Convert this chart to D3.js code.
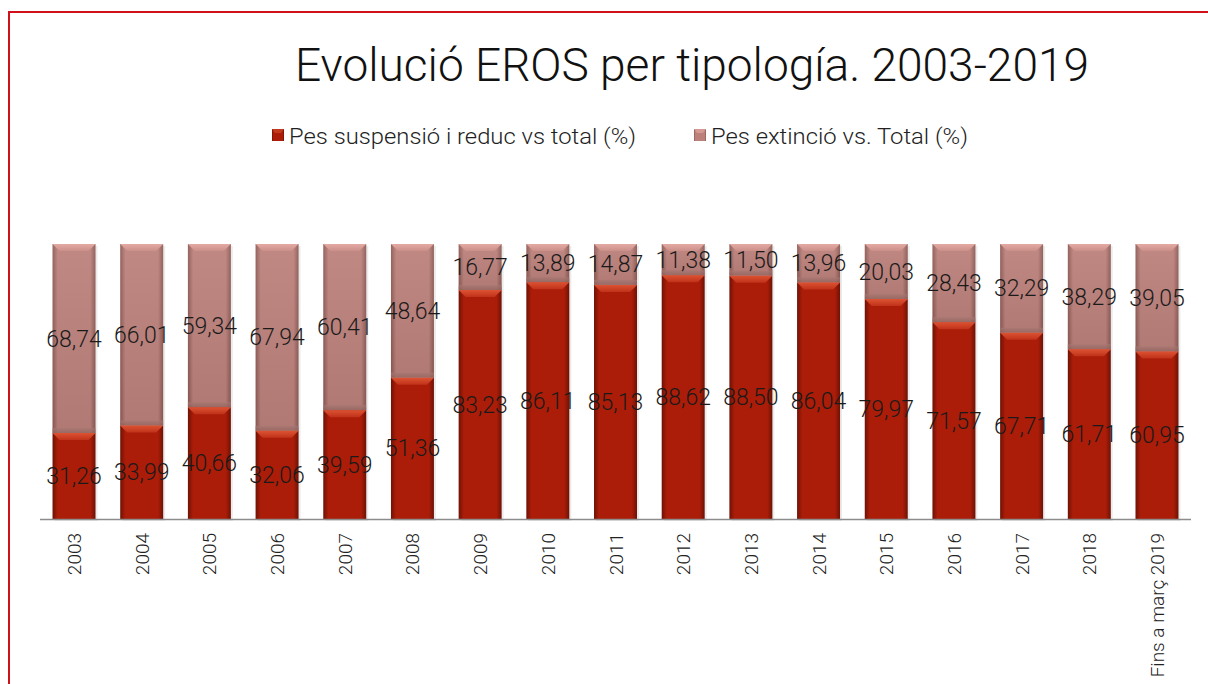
<!DOCTYPE html>
<html>
<head>
<meta charset="utf-8">
<script src="https://cdn.jsdelivr.net/npm/d3@7"></script>
<style>
  body { margin: 0; background: #fff; }
  svg text { font-family: Roboto, "Open Sans", sans-serif; }
</style>
</head>
<body>
<div id="chart"></div>
<script>
// categories and series (values in %)
const categories = ["2003", "2004", "2005", "2006", "2007", "2008", "2009", "2010", "2011",
  "2012", "2013", "2014", "2015", "2016", "2017", "2018", "Fins a març 2019"];
const reducValues = [31.26, 33.99, 40.66, 32.06, 39.59, 51.36, 83.23, 86.11, 85.13,
  88.62, 88.50, 86.04, 79.97, 71.57, 67.71, 61.71, 60.95];
const extincioValues = [68.74, 66.01, 59.34, 67.94, 60.41, 48.64, 16.77, 13.89, 14.87,
  11.38, 11.50, 13.96, 20.03, 28.43, 32.29, 38.29, 39.05];
const seriesNames = ["Pes suspensió i reduc vs total (%)", "Pes extinció vs. Total (%)"];
const titleText = "Evolució EROS per tipología. 2003-2019";

const W = 1208, H = 684;
const baseY = 519, topY = 244;

const svg = d3.select("#chart").append("svg")
  .attr("width", W).attr("height", H);

// gradients for the bevelled bars
const defs = svg.append("defs");
function hGrad(id, edge, mid) {
  const g = defs.append("linearGradient").attr("id", id)
    .attr("x1", "0").attr("x2", "1").attr("y1", "0").attr("y2", "0");
  g.append("stop").attr("offset", "0").attr("stop-color", edge);
  g.append("stop").attr("offset", "0.12").attr("stop-color", mid);
  g.append("stop").attr("offset", "0.88").attr("stop-color", mid);
  g.append("stop").attr("offset", "1").attr("stop-color", edge);
}
hGrad("gReduc", "#6e1206", "#ab1d08");
hGrad("gExt", "#8d5a55", "#bc817b");
function vGrad(id, c1, c2) {
  const g = defs.append("linearGradient").attr("id", id)
    .attr("x1", "0").attr("x2", "0").attr("y1", "0").attr("y2", "1");
  g.append("stop").attr("offset", "0").attr("stop-color", c1);
  g.append("stop").attr("offset", "1").attr("stop-color", c2);
}
vGrad("bReduc", "#dc5232", "#c0321a");
vGrad("bExt", "#e3aaa3", "#cb8f88");
vGrad("sExt", "#a87772", "#8e625d");
vGrad("shadeExt", "#ffffff", "#000000");

// outer red frame
svg.append("rect")
  .attr("x", 9).attr("y", 12).attr("width", W + 20).attr("height", H + 20)
  .attr("fill", "none").attr("stroke", "#d0111b").attr("stroke-width", 2);

// title
svg.append("text")
  .attr("x", 692).attr("y", 81)
  .attr("text-anchor", "middle")
  .attr("font-size", 46).attr("font-weight", 300).attr("fill", "#111")
  .attr("textLength", 794).attr("lengthAdjust", "spacingAndGlyphs")
  .text(titleText);

// scales
const x = d3.scaleBand()
  .domain(categories)
  .range([40, 1191])
  .paddingInner(0.365)
  .paddingOuter(0.185);

const y = d3.scaleLinear()
  .domain([0, 100])
  .range([baseY, topY]);

const data = categories.map((c, i) => ({ cat: c, reduc: reducValues[i], ext: extincioValues[i] }));
const bw = x.bandwidth();
const bev = 7;

// legend
const legend = svg.append("g");
const legItems = [
  { name: seriesNames[0], x: 272, fill: "url(#gReduc)", top: "#c23a1e", w: 347 },
  { name: seriesNames[1], x: 694, fill: "url(#gExt)", top: "#d49a93", w: 257 }
];
legItems.forEach(d => {
  legend.append("rect").attr("x", d.x).attr("y", 129).attr("width", 12).attr("height", 12)
    .attr("fill", d.fill);
  legend.append("path")
    .attr("d", `M${d.x},129 L${d.x + 12},129 L${d.x + 9},133 L${d.x + 3},133 Z`)
    .attr("fill", d.top);
  legend.append("text")
    .attr("x", d.x + 17).attr("y", 144)
    .attr("font-size", 22).attr("font-weight", 300).attr("fill", "#222")
    .attr("textLength", d.w).attr("lengthAdjust", "spacingAndGlyphs")
    .text(d.name);
});

// bars
const bars = svg.append("g").selectAll("g")
  .data(data)
  .enter()
  .append("g");

// soft shadow
bars.append("rect")
  .attr("x", d => x(d.cat) + 2)
  .attr("y", y(100) + 2)
  .attr("width", bw)
  .attr("height", y(0) - y(100))
  .attr("fill", "#000").attr("opacity", 0.08);

// reduction segment
bars.append("rect")
  .attr("x", d => x(d.cat))
  .attr("y", d => y(d.reduc))
  .attr("width", bw)
  .attr("height", d => y(0) - y(d.reduc))
  .attr("fill", "url(#gReduc)");

// extinction segment
bars.append("rect")
  .attr("x", d => x(d.cat))
  .attr("y", d => y(d.reduc + d.ext))
  .attr("width", bw)
  .attr("height", d => y(d.reduc) - y(d.reduc + d.ext))
  .attr("fill", "url(#gExt)");

// light-to-dark vertical shading over the extinction segment
bars.append("rect")
  .attr("x", d => x(d.cat))
  .attr("y", d => y(d.reduc + d.ext))
  .attr("width", bw)
  .attr("height", d => y(d.reduc) - y(d.reduc + d.ext))
  .attr("fill", "url(#shadeExt)").attr("opacity", 0.06);

// darker band at the bottom of the extinction segment
bars.append("rect")
  .attr("x", d => x(d.cat))
  .attr("y", d => y(d.reduc) - 5)
  .attr("width", bw)
  .attr("height", 5)
  .attr("fill", "url(#sExt)").attr("opacity", 0.7);

// top bevels
bars.append("path")
  .attr("d", d => {
    const x0 = x(d.cat), y0 = y(d.reduc);
    return `M${x0},${y0} L${x0 + bw},${y0} L${x0 + bw - bev},${y0 + bev} L${x0 + bev},${y0 + bev} Z`;
  })
  .attr("fill", "url(#bReduc)");

bars.append("path")
  .attr("d", d => {
    const x0 = x(d.cat), y0 = y(d.reduc + d.ext);
    return `M${x0},${y0} L${x0 + bw},${y0} L${x0 + bw - bev},${y0 + bev} L${x0 + bev},${y0 + bev} Z`;
  })
  .attr("fill", "url(#bExt)");

// axis line
svg.append("line")
  .attr("x1", x.range()[0]).attr("x2", x.range()[1])
  .attr("y1", baseY + 0.5).attr("y2", baseY + 0.5)
  .attr("stroke", "#8c8c8c").attr("stroke-width", 1.5);

// category labels (rotated)
svg.append("g").selectAll("text")
  .data(categories)
  .enter()
  .append("text")
  .attr("transform", d => `translate(${x(d) + bw / 2 + 7},533) rotate(-90)`)
  .attr("text-anchor", "end")
  .attr("font-size", 19).attr("font-weight", 300).attr("fill", "#222")
  .text(d => d);

// value labels
const fmt = v => v.toFixed(2).replace(".", ",");
const labels = svg.append("g");
labels.selectAll("text.r")
  .data(data)
  .enter()
  .append("text")
  .attr("class", "r")
  .attr("x", d => x(d.cat) + bw / 2)
  .attr("y", d => (y(0) + y(d.reduc)) / 2 + 8)
  .attr("text-anchor", "middle")
  .attr("font-size", 23).attr("font-weight", 300).attr("fill", "#1a1a1a")
  .text(d => fmt(d.reduc));

labels.selectAll("text.e")
  .data(data)
  .enter()
  .append("text")
  .attr("class", "e")
  .attr("x", d => x(d.cat) + bw / 2)
  .attr("y", d => (y(d.reduc) + y(d.reduc + d.ext)) / 2 + 8)
  .attr("text-anchor", "middle")
  .attr("font-size", 23).attr("font-weight", 300).attr("fill", "#1a1a1a")
  .text(d => fmt(d.ext));
</script>
</body>
</html>
